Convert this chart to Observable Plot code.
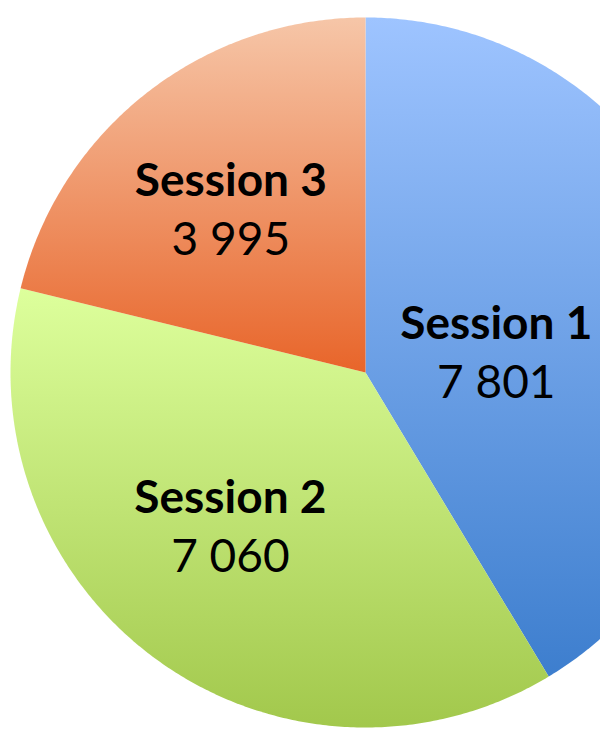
<!DOCTYPE html>
<html>
<head>
<meta charset="utf-8">
<script src="https://cdn.jsdelivr.net/npm/d3@7"></script>
<script src="https://cdn.jsdelivr.net/npm/@observablehq/plot@0.6"></script>
<style>
  html, body { margin: 0; padding: 0; background: #fff; }
  svg { display: block; }
</style>
</head>
<body>
<script>
// ---- data ----
const sessions = ["Session 1", "Session 2", "Session 3"];
const values = [7801, 7060, 3995];

// ---- style ----
const topColors = ["#9EC4FF", "#DDFF9C", "#F6C6A8"];
const bottomColors = ["#3D7ECE", "#A2C84C", "#E8652A"];
const fontFamily = "Lato, 'Open Sans', sans-serif";

const fmt = d3.formatLocale({decimal: ",", thousands: " ", grouping: [3], currency: ["", ""]}).format(",d");

const arcs = d3.pie().sort(null).value(d => d)(values);

// polygon outline of each slice (centre + arc), in unit-circle coordinates
const outline = [];
arcs.forEach((a, i) => {
  const s = sessions[i];
  outline.push({session: s, x: 0, y: 0});
  const n = Math.max(2, Math.ceil((a.endAngle - a.startAngle) / (Math.PI / 360)));
  for (let k = 0; k <= n; k++) {
    const t = a.startAngle + (a.endAngle - a.startAngle) * k / n;
    outline.push({session: s, x: Math.sin(t), y: Math.cos(t)});
  }
  outline.push({session: s, x: 0, y: 0});
});

// label anchors: mid-angle at 0.59 of radius, with small manual nudges as in the original
const nudge = {"Session 1": [-0.2, -0.104], "Session 2": [-0.031, 0.038], "Session 3": [-0.015, -0.008]};
const labels = arcs.map((a, i) => {
  const m = (a.startAngle + a.endAngle) / 2;
  const [nx, ny] = nudge[sessions[i]] || [0, 0];
  return {session: sessions[i], value: fmt(values[i]), x: 0.59 * Math.sin(m) + nx, y: 0.59 * Math.cos(m) + ny};
});

const gradients = () => {
  const g = d3.create("svg:g");
  const defs = g.append("defs");
  sessions.forEach((s, i) => {
    const lg = defs.append("linearGradient").attr("id", "grad" + i)
      .attr("x1", 0).attr("y1", 0).attr("x2", 0).attr("y2", 1);
    lg.append("stop").attr("offset", "0%").attr("stop-color", topColors[i]);
    lg.append("stop").attr("offset", "100%").attr("stop-color", bottomColors[i]);
  });
  return g.node();
};

const chart = Plot.plot({
  width: 600,
  height: 729,
  margin: 0,
  style: {background: "#fff", fontFamily},
  x: {domain: [-1, 1], range: [10, 720], axis: null},
  y: {domain: [-1, 1], range: [727, 17], axis: null},
  color: {domain: sessions, range: sessions.map((_, i) => `url(#grad${i})`)},
  marks: [
    gradients,
    Plot.line(outline, {x: "x", y: "y", z: "session", fill: "session", stroke: "none", curve: "linear"}),
    Plot.text(labels, {x: "x", y: "y", text: "session", dy: -29, fontSize: 46, fontWeight: "bold", fill: "#000", fontFamily}),
    Plot.text(labels, {x: "x", y: "y", text: "value", dy: 30, fontSize: 46, fill: "#000", fontFamily})
  ]
});
document.body.appendChild(chart);
</script>
</body>
</html>
